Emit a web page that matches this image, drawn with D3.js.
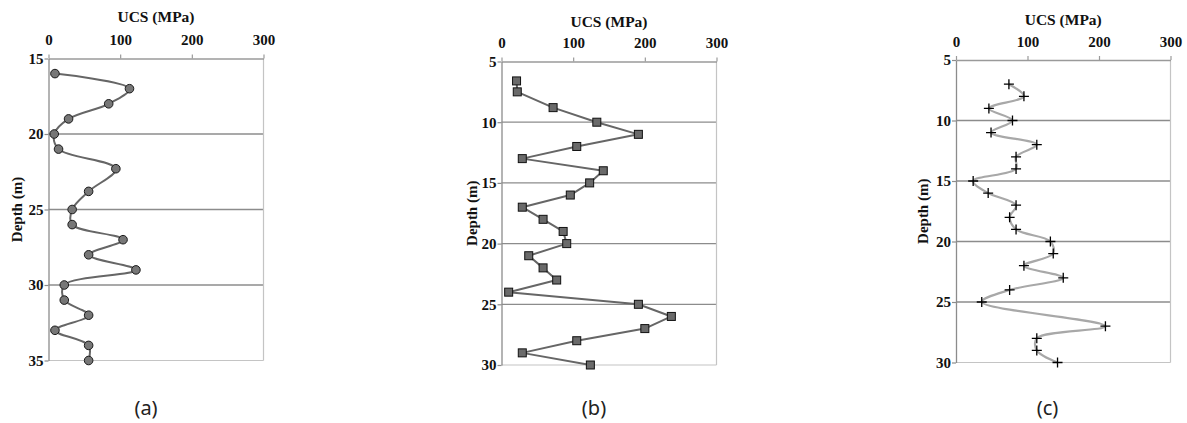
<!DOCTYPE html>
<html>
<head>
<meta charset="utf-8">
<script src="https://cdn.jsdelivr.net/npm/d3@7"></script>
<style>
  html, body { margin: 0; padding: 0; background: #fff; }
  svg { display: block; }
</style>
</head>
<body>
<svg id="chart" width="1187" height="423"></svg>
<script>
// ---------- DATA ----------
const xTicks = [0, 100, 200, 300];
const xTitle = "UCS (MPa)";
const yTitle = "Depth (m)";
const captions = ["(a)", "(b)", "(c)"];

const depthTicksA = [15, 20, 25, 30, 35];
const depthA = [16, 17, 18, 19, 20, 21, 22.3, 23.8, 25, 26, 27, 28, 29, 30, 31, 32, 33, 34, 35];
const ucsA   = [9, 113, 84, 28, 8, 14, 94, 56, 33, 33, 104, 56, 122, 22, 22, 56, 9, 56, 56];

const depthTicksB = [5, 10, 15, 20, 25, 30];
const depthB = [6.6, 7.5, 8.8, 10, 11, 12, 13, 14, 15, 16, 17, 18, 19, 20, 21, 22, 23, 24, 25, 26, 27, 28, 29, 30];
const ucsB   = [21, 22, 72, 133, 191, 105, 29, 142, 123, 96, 29, 58, 86, 91, 38, 58, 77, 10, 191, 237, 200, 105, 29, 124];

const depthTicksC = [5, 10, 15, 20, 25, 30];
const depthC = [7, 8, 9, 10, 11, 12, 13, 14, 15, 16, 17, 18, 19, 20, 21, 22, 23, 24, 25, 27, 28, 29, 30];
const ucsC   = [74, 95, 46, 79, 49, 113, 84, 84, 24, 45, 84, 75, 84, 132, 136, 95, 150, 75, 36, 209, 113, 113, 142];

// ---------- LAYOUT ----------
const panels = [
  { depth: depthA, ucs: ucsA, ticks: depthTicksA, left: 48.5, right: 263.5, top: 58.5, bottom: 360.5,
    marker: "circle", line: "#666", lineW: 2, curve: d3.curveCatmullRom, titleDy: 37, tickDy: 13.5, labelX: 17, capX: 146 },
  { depth: depthB, ucs: ucsB, ticks: depthTicksB, left: 501.5, right: 716.5, top: 61.5, bottom: 365,
    marker: "square", line: "#666", lineW: 2, curve: d3.curveLinear, titleDy: 35, tickDy: 14, labelX: 472, capX: 594 },
  { depth: depthC, ucs: ucsC, ticks: depthTicksC, left: 956, right: 1170.5, top: 60, bottom: 362.5,
    marker: "plus", line: "#a8a8a8", lineW: 2.2, curve: d3.curveCatmullRom, titleDy: 35, tickDy: 13.5, labelX: 923, capX: 1047.5 }
];

const svg = d3.select("#chart");
const serif = "'Liberation Serif', 'Times New Roman', serif";

panels.forEach((p, i) => {
  const x = d3.scaleLinear().domain([xTicks[0], xTicks[xTicks.length - 1]]).range([p.left, p.right]);
  const y = d3.scaleLinear().domain([p.ticks[0], p.ticks[p.ticks.length - 1]]).range([p.top, p.bottom]);
  const g = svg.append("g");

  // gridlines (interior)
  g.append("g").selectAll("line")
    .data(p.ticks.slice(1, -1)).join("line")
    .attr("x1", p.left).attr("x2", p.right)
    .attr("y1", d => y(d)).attr("y2", d => y(d))
    .attr("stroke", "#8c8c8c").attr("stroke-width", 1.3);

  // right & bottom border
  g.append("line").attr("x1", p.right).attr("x2", p.right).attr("y1", p.top).attr("y2", p.bottom)
    .attr("stroke", "#c4c4c4").attr("stroke-width", 1.2);
  g.append("line").attr("x1", p.left).attr("x2", p.right).attr("y1", p.bottom).attr("y2", p.bottom)
    .attr("stroke", "#c4c4c4").attr("stroke-width", 1.2);

  // top axis
  const ax = g.append("g").attr("transform", `translate(0,${p.top})`)
    .call(d3.axisTop(x).tickValues(xTicks).tickSize(4).tickSizeOuter(0).tickFormat(d3.format("d")));
  ax.select(".domain").attr("stroke", "#9a9a9a").attr("stroke-width", 1.3);
  ax.selectAll(".tick line").attr("stroke", "#9a9a9a").attr("stroke-width", 1.2);
  ax.selectAll(".tick text").attr("y", null).attr("dy", null)
    .attr("transform", `translate(0,${-p.tickDy})`)
    .attr("font-family", serif).attr("font-weight", "bold").attr("font-size", 15).attr("fill", "#111");

  // left axis
  const ay = g.append("g").attr("transform", `translate(${p.left},0)`)
    .call(d3.axisLeft(y).tickValues(p.ticks).tickSize(4).tickSizeOuter(0).tickFormat(d3.format("d")));
  ay.select(".domain").attr("stroke", "#8c8c8c").attr("stroke-width", 1.3);
  ay.selectAll(".tick line").attr("stroke", "#8c8c8c").attr("stroke-width", 1.2);
  ay.selectAll(".tick text").attr("x", -5)
    .attr("font-family", serif).attr("font-weight", "bold").attr("font-size", 15).attr("fill", "#111");

  // titles
  g.append("text").attr("x", (p.left + p.right) / 2).attr("y", p.top - p.titleDy)
    .attr("text-anchor", "middle").attr("font-family", serif).attr("font-weight", "bold")
    .attr("font-size", 15.5).attr("fill", "#111").text(xTitle);
  g.append("text").attr("transform", `translate(${p.labelX},${(p.top + p.bottom) / 2}) rotate(-90)`)
    .attr("text-anchor", "middle").attr("dy", "0.35em").attr("font-family", serif).attr("font-weight", "bold")
    .attr("font-size", 15).attr("fill", "#111").text(yTitle);

  // data
  const pts = p.depth.map((d, k) => ({ depth: d, ucs: p.ucs[k] }));
  const line = d3.line().x(d => x(d.ucs)).y(d => y(d.depth)).curve(p.curve);
  g.append("path").datum(pts).attr("d", line)
    .attr("fill", "none").attr("stroke", p.line).attr("stroke-width", p.lineW).attr("stroke-linejoin", "round");

  const mk = g.append("g");
  if (p.marker === "circle") {
    mk.selectAll("circle").data(pts).join("circle")
      .attr("cx", d => x(d.ucs)).attr("cy", d => y(d.depth)).attr("r", 4.3)
      .attr("fill", "#777").attr("stroke", "#1a1a1a").attr("stroke-width", 1);
  } else if (p.marker === "square") {
    mk.selectAll("rect").data(pts).join("rect")
      .attr("x", d => x(d.ucs) - 4).attr("y", d => y(d.depth) - 4).attr("width", 8).attr("height", 8)
      .attr("fill", "#6a6a6a").attr("stroke", "#111").attr("stroke-width", 1);
  } else {
    mk.selectAll("path").data(pts).join("path")
      .attr("d", d => { const cx = x(d.ucs), cy = y(d.depth);
        return `M${cx - 5},${cy}H${cx + 5}M${cx},${cy - 5}V${cy + 5}`; })
      .attr("stroke", "#000").attr("stroke-width", 1.3).attr("fill", "none");
  }

  // caption
  svg.append("text").attr("x", p.capX).attr("y", 415).attr("text-anchor", "middle")
    .attr("font-family", "'Noto Sans', 'Open Sans', sans-serif").attr("font-weight", 400)
    .attr("font-size", 20).attr("fill", "#222").text(captions[i]);
});
</script>
</body>
</html>
